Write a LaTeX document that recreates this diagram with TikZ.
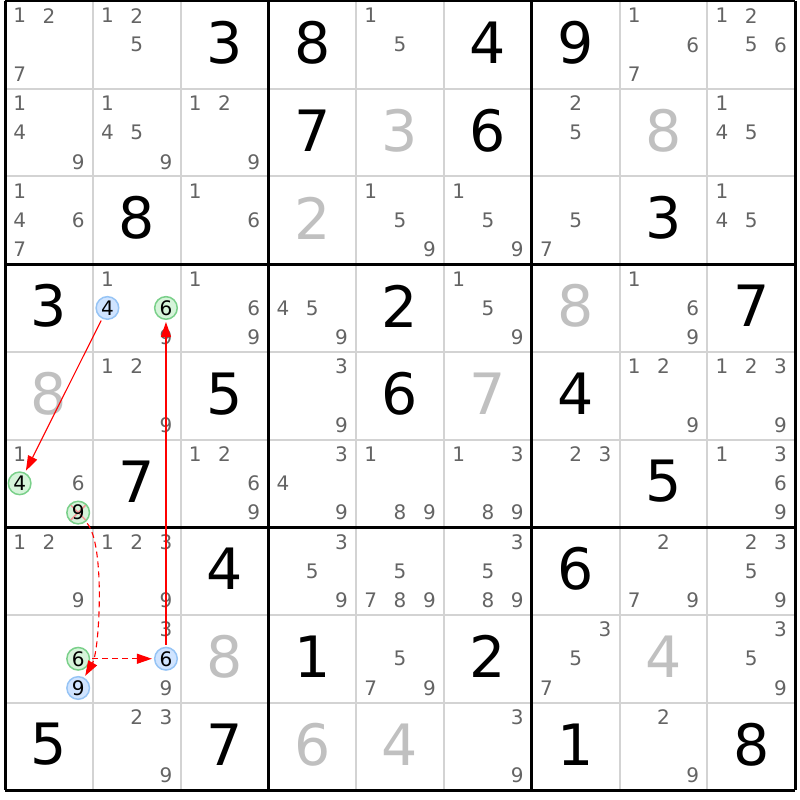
\documentclass[tikz,border=0pt]{standalone}
\usepackage{fontspec}
\setmainfont{DejaVu Sans}
\usetikzlibrary{arrows.meta}

\definecolor{solvedgray}{RGB}{192,192,192}
\definecolor{candgray}{RGB}{100,100,100}
\definecolor{gridgray}{RGB}{211,211,211}
\definecolor{bluefill}{RGB}{208,228,255}
\definecolor{blueline}{RGB}{150,196,245}
\definecolor{greenfill}{RGB}{214,244,218}
\definecolor{greenline}{RGB}{122,208,138}
\definecolor{crossred}{RGB}{242,150,150}

\newcommand{\candat}[4]{%
	\pgfmathsetmacro{\candx}{#2-1+(mod(#3-1,3)+0.5)/3}%
	\pgfmathsetmacro{\candy}{#1-1+(floor((#3-1)/3)+0.5)/3}%
	\node[#4] (c_#1_#2_#3) at (\candx,\candy) {#3};}
\newcommand{\cands}[3]{\foreach \d in {#3} {\candat{#1}{#2}{\d}{cand}}}

\begin{document}
\begin{tikzpicture}[x=87.8pt,y=-87.7pt,
		gridthin/.style={gridgray, line width=2pt},
		gridthick/.style={black, line width=3pt},
		given/.style={font=\fontsize{57}{57}\selectfont, yshift=2pt},
		solved/.style={given, text=solvedgray},
		cand/.style={circle, inner sep=0pt, minimum size=22.6pt, text=candgray, font=\fontsize{20}{20}\selectfont},
		candblue/.style={cand, draw=blueline, fill=bluefill, line width=1.5pt, text=black},
		candgreen/.style={cand, draw=greenline, fill=greenfill, line width=1.5pt, text=black},
		elim/.style={candgreen, path picture={
			\draw[crossred, line width=1.5pt] (path picture bounding box.north west) -- (path picture bounding box.south east)
				(path picture bounding box.north east) -- (path picture bounding box.south west);}},
		link/.style={red, line width=1.1pt, -{Triangle[length=15pt,width=10pt]}, shorten <=2pt, shorten >=2pt},
		weak/.style={link, dash pattern=on 6pt off 4pt}
	]
	\useasboundingbox (-0.057,-0.0114) rectangle (9.0547,9.1106);
	
	\foreach \i in {1,2,4,5,7,8} {
		\draw[gridthin] (\i,0) -- (\i,9);
		\draw[gridthin] (0,\i) -- (9,\i);
	}
	\foreach \i in {0,3,6,9} {
		\draw[gridthick] (\i,0) -- (\i,9);
		\draw[gridthick] (0,\i) -- (9,\i);
	}
	
	\foreach \r/\c/\n in {1/3/3, 1/4/8, 1/6/4, 1/7/9, 2/4/7, 2/6/6, 3/2/8, 3/8/3,
			4/1/3, 4/5/2, 4/9/7, 5/3/5, 5/5/6, 5/7/4, 6/2/7, 6/8/5,
			7/3/4, 7/7/6, 8/4/1, 8/6/2, 9/1/5, 9/3/7, 9/7/1, 9/9/8}
		\node[given] (g_\r_\c) at (\c-0.5,\r-0.5) {\n};
	\foreach \r/\c/\n in {2/5/3, 2/8/8, 3/4/2, 4/7/8, 5/1/8, 5/6/7, 8/3/8, 8/8/4, 9/4/6, 9/5/4}
		\node[solved] (g_\r_\c) at (\c-0.5,\r-0.5) {\n};
	
	\cands{1}{1}{1,2,7}   \cands{1}{2}{1,2,5}   \cands{1}{5}{1,5}
	\cands{1}{8}{1,6,7}   \cands{1}{9}{1,2,5,6}
	\cands{2}{1}{1,4,9}   \cands{2}{2}{1,4,5,9} \cands{2}{3}{1,2,9}
	\cands{2}{7}{2,5}     \cands{2}{9}{1,4,5}
	\cands{3}{1}{1,4,6,7} \cands{3}{3}{1,6}     \cands{3}{5}{1,5,9}
	\cands{3}{6}{1,5,9}   \cands{3}{7}{5,7}     \cands{3}{9}{1,4,5}
	\cands{4}{2}{1,9}     \cands{4}{3}{1,6,9}   \cands{4}{4}{4,5,9}
	\cands{4}{6}{1,5,9}   \cands{4}{8}{1,6,9}
	\cands{5}{2}{1,2,9}   \cands{5}{4}{3,9}     \cands{5}{8}{1,2,9}
	\cands{5}{9}{1,2,3,9}
	\cands{6}{1}{1,6}     \cands{6}{3}{1,2,6,9} \cands{6}{4}{3,4,9}
	\cands{6}{5}{1,8,9}   \cands{6}{6}{1,3,8,9} \cands{6}{7}{2,3}
	\cands{6}{9}{1,3,6,9}
	\cands{7}{1}{1,2,9}   \cands{7}{2}{1,2,3,9} \cands{7}{4}{3,5,9}
	\cands{7}{5}{5,7,8,9} \cands{7}{6}{3,5,8,9} \cands{7}{8}{2,7,9}
	\cands{7}{9}{2,3,5,9}
	\cands{8}{2}{3,9}     \cands{8}{5}{5,7,9}   \cands{8}{7}{3,5,7}
	\cands{8}{9}{3,5,9}
	\cands{9}{2}{2,3,9}   \cands{9}{6}{3,9}     \cands{9}{8}{2,9}
	
	\candat{4}{2}{4}{candblue}
	\candat{4}{2}{6}{candgreen}
	\candat{6}{1}{4}{candgreen}
	\candat{6}{1}{9}{elim}
	\candat{8}{1}{6}{candgreen}
	\candat{8}{1}{9}{candblue}
	\candat{8}{2}{6}{candblue}
	
	\draw[link] (c_4_2_4) -- (c_6_1_4);
	\draw[link] (c_8_2_6) -- (c_4_2_6);
	\draw[weak] (c_6_1_9) to[out=-50, in=60, looseness=0.5] (c_8_1_9);
	\draw[weak] (c_8_1_6) -- (c_8_2_6);
\end{tikzpicture}
\end{document}
